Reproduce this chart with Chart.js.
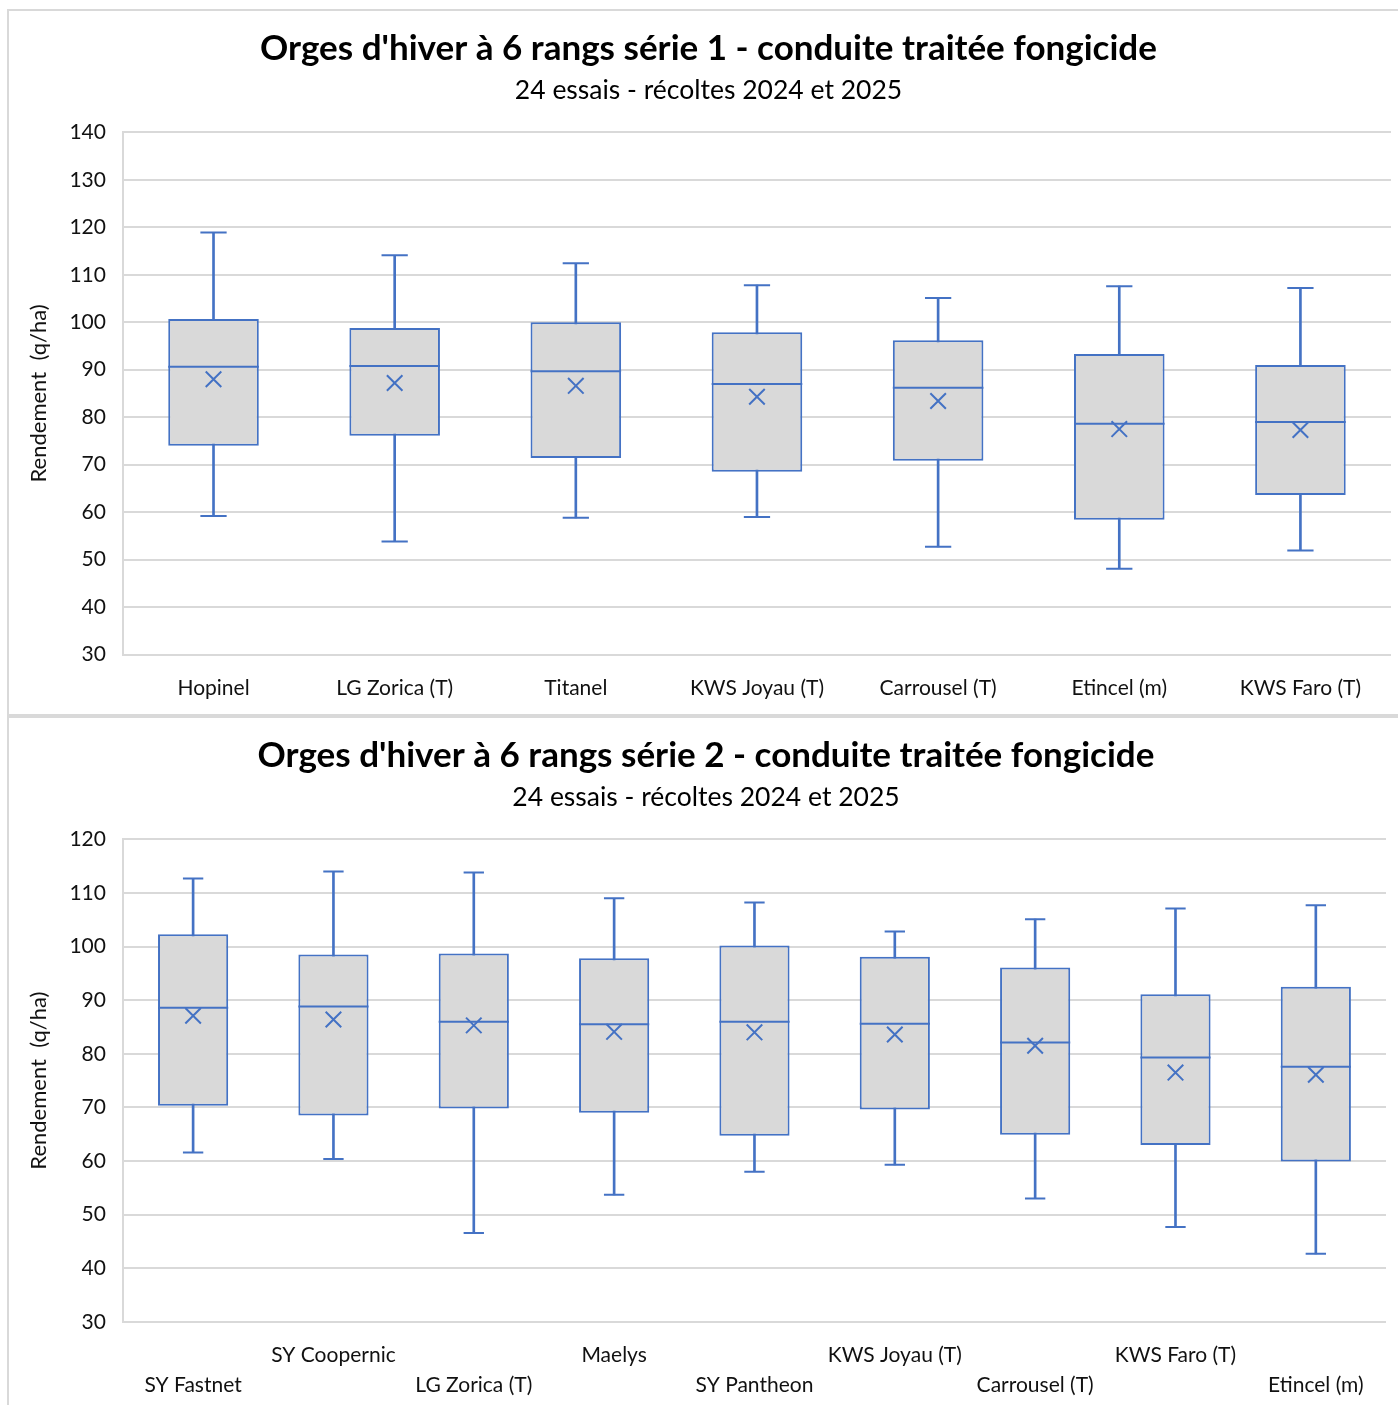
<!DOCTYPE html>
<html><head><meta charset="utf-8">
<script src="https://cdn.jsdelivr.net/npm/chart.js@4"></script>
<style>
html,body{margin:0;padding:0;background:#fff;overflow:hidden;width:1398px;height:1405px;}
.frame{position:absolute;border:2px solid #d9d9d9;box-sizing:border-box;background:transparent;pointer-events:none;z-index:5;}
.holder{position:absolute;}
</style></head><body>
<div class="holder" style="left:9px;top:11px;width:1384px;height:726px;"><canvas id="c1"></canvas></div>
<div class="holder" style="left:9px;top:718px;width:1380px;height:706px;"><canvas id="c2"></canvas></div>
<div class="frame" style="left:7px;top:9px;width:1400px;height:707px;"></div>
<div class="frame" style="left:7px;top:716px;width:1400px;height:700px;"></div>
<script>
// ---- Chart 1 data ----
const cats1 = ['Hopinel','LG Zorica (T)','Titanel','KWS Joyau (T)','Carrousel (T)','Etincel (m)','KWS Faro (T)'];
const min1  = [59.2, 53.8, 58.8, 59.0, 52.7, 48.1, 51.9];
const q1_1  = [74.0, 76.1, 71.4, 68.5, 70.8, 58.4, 63.6];
const med1  = [90.6, 90.8, 89.7, 87.0, 86.2, 78.6, 79.0];
const q3_1  = [100.7, 98.8, 100.0, 97.9, 96.2, 93.3, 91.0];
const max1  = [118.9, 114.1, 112.4, 107.8, 105.1, 107.6, 107.2];
const mean1 = [88.0, 87.2, 86.6, 84.3, 83.4, 77.5, 77.3];
// ---- Chart 2 data ----
const cats2 = ['SY Fastnet','SY Coopernic','LG Zorica (T)','Maelys','SY Pantheon','KWS Joyau (T)','Carrousel (T)','KWS Faro (T)','Etincel (m)'];
const min2  = [61.6, 60.4, 46.6, 53.7, 58.0, 59.3, 53.0, 47.7, 42.7];
const q1_2  = [70.3, 68.5, 69.8, 69.0, 64.7, 69.6, 64.9, 63.0, 59.9];
const med2  = [88.6, 88.8, 86.0, 85.5, 86.0, 85.6, 82.1, 79.3, 77.6];
const q3_2  = [102.3, 98.5, 98.7, 97.8, 100.2, 98.1, 96.1, 91.1, 92.5];
const max2  = [112.7, 114.0, 113.8, 109.0, 108.2, 102.8, 105.1, 107.1, 107.7];
const mean2 = [87.1, 86.4, 85.3, 84.1, 84.0, 83.6, 81.5, 76.5, 76.1];

const BLUE = '#4472c4', GRID = '#d9d9d9', FONT = 'Lato, "Open Sans", sans-serif';

function makeChart(id, cats, mn, q1, md, q3, mx, mean, yMin, yMax, title, staggered, tickPad, lh, padBottom, padRight) {
  const n = cats.length;
  const half = (c) => c.chart.scales.x ? c.chart.scales.x.width / n * 0.25 : 20;
  const labels = staggered ? cats.map((c,i)=> i%2===0 ? ['', c] : [c, '']) : cats;
  return new Chart(document.getElementById(id), {
    type: 'bar',
    data: {
      labels: labels,
      datasets: [
        {type:'bar', data: mn.map((v,i)=>[v, mx[i]]), backgroundColor: BLUE, barThickness: 2, grouped:false, order:5},
        {type:'bar', data: q1.map((v,i)=>[v, q3[i]]), backgroundColor:'#d9d9d9', borderColor: BLUE, borderWidth:2, borderSkipped:false,
          barPercentage:0.5, categoryPercentage:1, grouped:false, order:4},
        {type:'line', data: md, showLine:false, pointStyle:'line', borderColor:BLUE, borderWidth:2, radius: half, order:1},
        {type:'line', data: mx, showLine:false, pointStyle:'line', borderColor:BLUE, borderWidth:2, radius: c=>half(c)*0.29, order:1},
        {type:'line', data: mn, showLine:false, pointStyle:'line', borderColor:BLUE, borderWidth:2, radius: c=>half(c)*0.29, order:1},
        {type:'line', data: mean, showLine:false, pointStyle:'crossRot', borderColor:BLUE, borderWidth:2, radius: 11, order:1}
      ]
    },
    options: {
      responsive:true, maintainAspectRatio:false, animation:false, events:[],
      layout:{autoPadding:false, padding:{left:17, right:padRight, top:0, bottom:padBottom}},
      plugins:{
        legend:{display:false}, tooltip:{enabled:false},
        title:{display:true, text:title, color:'#000', font:{family:FONT, size:35, weight:'bold'}, padding:{top:17, bottom:5}},
        subtitle:{display:true, text:'24 essais - récoltes 2024 et 2025', color:'#000', font:{family:FONT, size:26.5}, padding:{top:0, bottom:25.5}}
      },
      scales:{
        x:{grid:{display:false, drawTicks:false}, border:{display:false},
           ticks:{color:'#111', font:{family:FONT, size:21, lineHeight:lh}, padding:tickPad, maxRotation:0, autoSkip:false}},
        y:{min:yMin, max:yMax, grid:{color:GRID, lineWidth:2, drawTicks:false}, border:{color:GRID, width:2},
           ticks:{stepSize:10, color:'#111', font:{family:FONT, size:21}, padding:17},
           title:{display:true, text:'Rendement  (q/ha)', color:'#111', font:{family:FONT, size:22}, padding:0}}
      }
    }
  });
}
makeChart('c1', cats1, min1, q1_1, med1, q3_1, max1, mean1, 30, 140,
  "Orges d'hiver à 6 rangs série 1 - conduite traitée fongicide", false, 21.4, 1.2, 14.4, 2);
makeChart('c2', cats2, min2, q1_2, med2, q3_2, max2, mean2, 30, 120,
  "Orges d'hiver à 6 rangs série 2 - conduite traitée fongicide", true, 18, 1.43, 6, 3);
</script></body></html>
